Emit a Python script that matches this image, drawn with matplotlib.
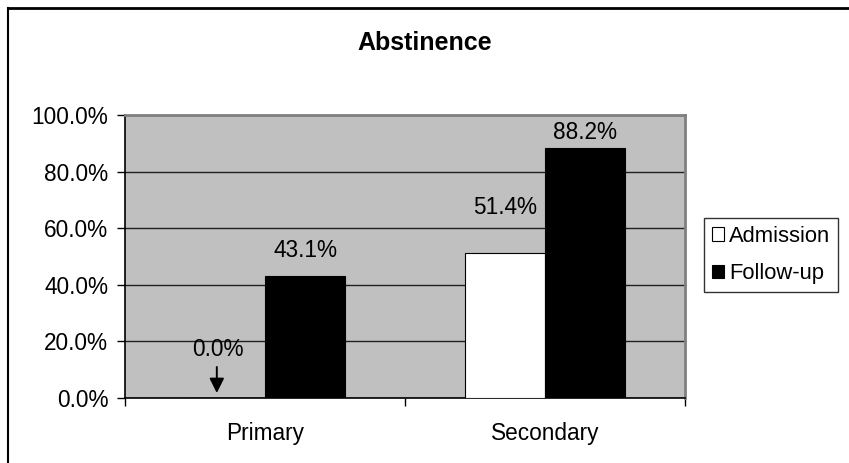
import matplotlib
matplotlib.use("Agg")
import matplotlib.pyplot as plt
from matplotlib.lines import Line2D
import numpy as np

categories = ["Primary", "Secondary"]
series_names = ["Admission", "Follow-up"]
admission = [0.0, 51.4]
follow_up = [43.1, 88.2]
y_ticks = [0, 20, 40, 60, 80, 100]
title = "Abstinence"

plt.rcParams['font.family'] = ['Liberation Sans', 'DejaVu Sans']

W, H = 849, 463
fig = plt.figure(figsize=(W / 100, H / 100), dpi=100)
fig.patch.set_facecolor('white')

# figure border (top and left visible)
fig.add_artist(Line2D([8 / W, 1], [1 - 8 / H, 1 - 8 / H], color='black', lw=2,
                      transform=fig.transFigure))
fig.add_artist(Line2D([8 / W, 8 / W], [0, 1 - 8 / H], color='black', lw=1.5,
                      transform=fig.transFigure))

ax = fig.add_axes([125 / W, 65 / H, 560 / W, 283 / H])
ax.set_facecolor('#C0C0C0')

x = np.arange(len(categories))
bw = 0.287
b1 = ax.bar(x - bw / 2, admission, bw, color='white', edgecolor='black', lw=0.8,
            label=series_names[0], zorder=3)
b2 = ax.bar(x + bw / 2, follow_up, bw, color='black', edgecolor='black', lw=0.8,
            label=series_names[1], zorder=3)

ax.set_xlim(-0.5, len(categories) - 0.5)
ax.set_ylim(0, 100)
ax.set_yticks(y_ticks)
ax.set_yticklabels([f"{v:.1f}%" for v in y_ticks])
ax.yaxis.grid(True, color='#202020', lw=1, zorder=1)
ax.set_axisbelow(True)

ax.set_xticks(x)
ax.set_xticklabels(categories)
ax.set_xticks(np.arange(-0.5, len(categories), 1.0), minor=True)
ax.tick_params(axis='x', which='major', length=0, pad=17, labelsize=16.3)
ax.tick_params(axis='x', which='minor', length=6, width=1, direction='out', color='black')
ax.tick_params(axis='y', length=6, width=1, direction='out', pad=6, labelsize=16.3)

for s in ['top', 'right']:
    ax.spines[s].set_color('#808080')
    ax.spines[s].set_linewidth(2)
for s in ['left', 'bottom']:
    ax.spines[s].set_color('black')
    ax.spines[s].set_linewidth(1.2)

# data labels (offsets in pixels above bar top)
px = 0.72
label_offsets_adm = [48, 45]
label_offsets_fu = [26, 16]
for i, v in enumerate(admission):
    dx = -7 if v == 0 else 0
    ax.annotate(f"{v:.1f}%", (x[i] - bw / 2, v), xytext=(dx * px, label_offsets_adm[i] * px),
                textcoords='offset points', ha='center', va='center', fontsize=16.3, zorder=5)
for i, v in enumerate(follow_up):
    ax.annotate(f"{v:.1f}%", (x[i] + bw / 2, v), xytext=(0, label_offsets_fu[i] * px),
                textcoords='offset points', ha='center', va='center', fontsize=16.3, zorder=5)

# arrow pointing to the zero-height bar
fig.canvas.draw()
tip = ax.transData.transform((x[0] - bw / 2, admission[0]))
arrow_x = tip[0] - 8
ax.annotate("", xy=(arrow_x, tip[1] + 5), xytext=(arrow_x, tip[1] + 31),
            xycoords='figure pixels', textcoords='figure pixels',
            arrowprops=dict(arrowstyle='-|>', color='black', lw=1.4, mutation_scale=22,
                            shrinkA=0, shrinkB=0))

fig.text(425 / W, 1 - 43 / H, title, ha='center', va='center', fontsize=18,
         fontweight='bold')

leg = fig.legend(handles=[b1, b2], labels=series_names, loc='upper left',
                 bbox_to_anchor=(704 / W, 1 - 218 / H), borderaxespad=0,
                 fontsize=15.8, frameon=True, fancybox=False, edgecolor='black',
                 handlelength=0.55, handleheight=0.55, handletextpad=0.25,
                 borderpad=0.35, labelspacing=0.75)
leg.get_frame().set_linewidth(1)

fig.savefig("out.png", dpi=100)
